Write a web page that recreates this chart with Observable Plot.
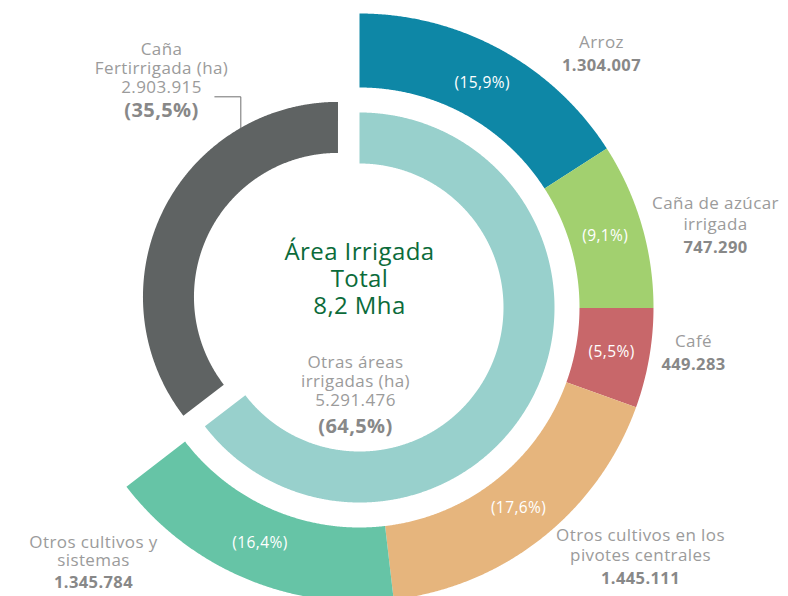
<!DOCTYPE html>
<html><head><meta charset="utf-8">
<script src="https://cdn.jsdelivr.net/npm/d3@7"></script>
<script src="https://cdn.jsdelivr.net/npm/@observablehq/plot@0.6"></script>
<style>body{margin:0;background:#fff} #chart{width:788px;height:596px}</style>
</head><body><div id="chart"></div>
<script>
// ---- data ----
const outerNames = ["Arroz", "Caña de azúcar irrigada", "Café", "Otros cultivos en los pivotes centrales", "Otros cultivos y sistemas"];
const outerLines = [["Arroz"], ["Caña de azúcar", "irrigada"], ["Café"], ["Otros cultivos en los", "pivotes centrales"], ["Otros cultivos y", "sistemas"]];
const outerValues = [1304007, 747290, 449283, 1445111, 1345784];
const outerPct = ["15,9", "9,1", "5,5", "17,6", "16,4"];
const outerColors = ["#0e87a6", "#a2d06f", "#c8676a", "#e6b57d", "#66c4a6"];

const innerNames = ["Otras áreas irrigadas (ha)", "Caña Fertirrigada (ha)"];
const innerLines = [["Otras áreas", "irrigadas (ha)"], ["Caña", "Fertirrigada (ha)"]];
const innerValues = [5291476, 2903915];
const innerPct = ["64,5", "35,5"];
const innerColors = ["#98d0cc", "#5f6363"];

const centerTitle = ["Área Irrigada", "Total", "8,2 Mha"];

// ---- layout ----
const W = 788, H = 596, CX = 359, CY = 307;
const R_OUT = [220, 294], R_IN = [144, 195], EXPLODE = 24;
const FONT = "'Open Sans', 'Noto Sans', sans-serif";
const fmt = d3.formatLocale({decimal: ",", thousands: ".", grouping: [3], currency: ["", ""]}).format(",");
const total = d3.sum(innerValues);
const toX = px => px - CX, toY = py => CY - py;

function arcPoly(key, a0, a1, r0, r1, ox = 0, oy = 0) {
  const pts = [];
  const n = Math.max(4, Math.ceil((a1 - a0) / (Math.PI / 720)));
  for (let i = 0; i <= n; i++) { const a = a0 + (a1 - a0) * i / n; pts.push({key, x: ox + r1 * Math.sin(a), y: oy + r1 * Math.cos(a)}); }
  for (let i = n; i >= 0; i--) { const a = a0 + (a1 - a0) * i / n; pts.push({key, x: ox + r0 * Math.sin(a), y: oy + r0 * Math.cos(a)}); }
  return pts;
}

const polys = [];
const outerArcs = [];
let acc = 0;
outerValues.forEach((v, i) => {
  const a0 = acc / total * 2 * Math.PI; acc += v;
  const a1 = acc / total * 2 * Math.PI;
  outerArcs.push({a0, a1, mid: (a0 + a1) / 2});
  polys.push(...arcPoly(outerNames[i], a0, a1, R_OUT[0], R_OUT[1]));
});
const innerArcs = [];
acc = 0;
innerValues.forEach((v, i) => {
  const a0 = acc / total * 2 * Math.PI; acc += v;
  const a1 = acc / total * 2 * Math.PI;
  const mid = (a0 + a1) / 2;
  const d = i === 1 ? EXPLODE : 0;
  const ox = d * Math.sin(mid), oy = d * Math.cos(mid);
  innerArcs.push({a0, a1, mid, ox, oy});
  polys.push(...arcPoly(innerNames[i], a0, a1, R_IN[0], R_IN[1], ox, oy));
});

// leader line for Caña Fertirrigada
const g = innerArcs[1];
const la = 2 * Math.PI * 0.917;
const p1 = {x: g.ox + R_IN[1] * Math.sin(la), y: g.oy + R_IN[1] * Math.cos(la)};
const leader = [p1, {x: p1.x, y: p1.y + 31}, {x: p1.x - 26, y: p1.y + 31}];

// percentage labels in outer slices
const pctLabels = outerArcs.map((a, i) => ({x: 256 * Math.sin(a.mid), y: 256 * Math.cos(a.mid), text: `(${outerPct[i]}%)`}));

// name blocks: [center x px, first line y px, line step px, value y px]
const NAME_SIZE = 17, VALUE_SIZE = 16.5;
const blocks = [];
const outerAnchors = [[601, 43, 21, 65], [715, 204, 21, 247], [693, 342, 21, 364], [640, 537, 20, 578], [93, 545, 18, 582]];
outerAnchors.forEach(([px, y0, step, vy], i) => {
  blocks.push({x: toX(px), y: toY(y0), step, text: outerLines[i].join("\n"), vx: toX(px), vy: toY(vy), value: fmt(outerValues[i]), vsize: VALUE_SIZE});
});
const innerAnchors = [[355, 365, 19, 426], [161, 52, 19, 110]];
innerAnchors.forEach(([px, y0, step, vy], i) => {
  blocks.push({x: toX(px), y: toY(y0), step, text: [...innerLines[i], fmt(innerValues[i])].join("\n"), vx: toX(px), vy: toY(vy), value: `(${innerPct[i]}%)`, vsize: 20});
});
const nameMarks = blocks.map(b => Plot.text([b], {x: "x", y: "y", text: "text", lineAnchor: "top", dy: -NAME_SIZE * 0.62, lineHeight: b.step / NAME_SIZE, fill: "#9b9b9b", fontSize: NAME_SIZE}));
const valueMarks = blocks.map(b => Plot.text([b], {x: "vx", y: "vy", text: "value", fill: "#888888", fontSize: b.vsize, fontWeight: "bold"}));

const chart = Plot.plot({
  width: W, height: H, margin: 0,
  x: {domain: [-CX, W - CX], axis: null},
  y: {domain: [CY - H, CY], axis: null},
  color: {domain: [...outerNames, ...innerNames], range: [...outerColors, ...innerColors]},
  style: {fontFamily: FONT, background: "#fff", letterSpacing: "0.4px"},
  marks: [
    Plot.line(polys, {x: "x", y: "y", z: "key", fill: "key", stroke: "none", curve: "linear"}),
    Plot.line(leader, {x: "x", y: "y", stroke: "#6f6f6f", strokeWidth: 1}),
    Plot.text(pctLabels, {x: "x", y: "y", text: "text", fill: "white", fontSize: 15.5}),
    ...nameMarks,
    ...valueMarks,
    Plot.text([centerTitle.join("\n")], {x: 0, y: toY(278), text: d => d, lineHeight: 27 / 24, fill: "#0b6b3a", fontSize: 24})
  ]
});
document.getElementById("chart").append(chart);
</script>
</body></html>
